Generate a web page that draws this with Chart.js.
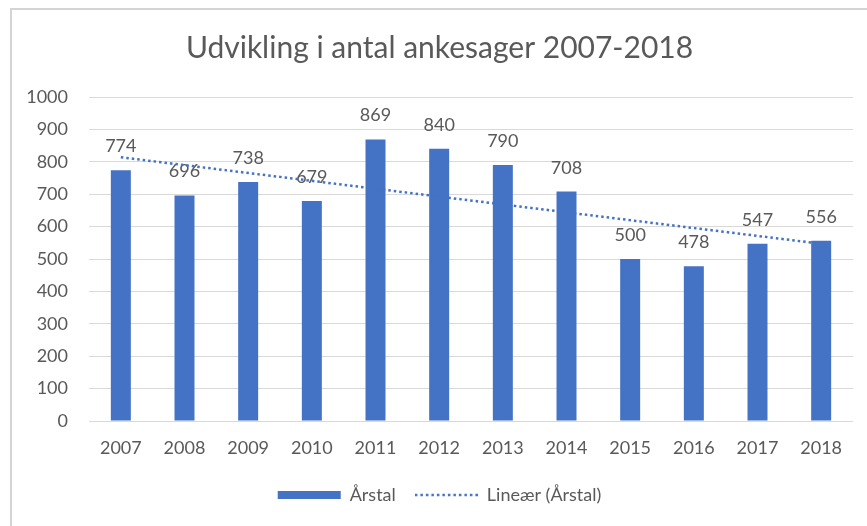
<!DOCTYPE html>
<html>
<head>
<meta charset="utf-8">
<script src="https://cdn.jsdelivr.net/npm/chart.js@4"></script>
<style>
  html, body { margin:0; padding:0; background:#fff; }
  .wrap { position:relative; width:867px; height:526px; overflow:hidden; }
  .frame { position:absolute; left:10px; top:8px; width:2000px; height:2000px;
           border-top:2px solid #d4d4d4; border-left:2px solid #d4d4d4; pointer-events:none; }
</style>
</head>
<body>
<div class="wrap">
  <canvas id="chart" width="867" height="526"></canvas>
  <div class="frame"></div>
</div>
<script>
// data
const years  = ['2007','2008','2009','2010','2011','2012','2013','2014','2015','2016','2017','2018'];
const cases  = [774, 696, 738, 679, 869, 840, 790, 708, 500, 478, 547, 556];
// trendline ends (2007 / 2018)
const trendYears = ['2007', '2018'];
const trendVals  = [814, 547];

const BLUE = '#4472C4';
const TXT  = '#595959';
const FONT = 'Lato, "Open Sans", sans-serif';
const DASH = [2.5, 3];

// value labels above the bars, drawn before the trendline so the dots sit on top
const barLabels = {
  id: 'barLabels',
  afterDatasetDraw(chart, args){
    if (args.index !== 0) return;
    const ctx = chart.ctx;
    ctx.save();
    ctx.font = '18px ' + FONT;
    ctx.fillStyle = TXT;
    ctx.textAlign = 'center';
    ctx.textBaseline = 'alphabetic';
    args.meta.data.forEach((bar, i) => {
      ctx.fillText(String(cases[i]), bar.x, bar.y - 18);
    });
    ctx.restore();
  }
};

// dotted legend swatch (the built-in 'line' style closes the path and fills the gaps)
function dottedSwatch(w, h){
  const c = document.createElement('canvas');
  c.width = w; c.height = h;
  const g = c.getContext('2d');
  g.strokeStyle = BLUE; g.lineWidth = 2.5; g.setLineDash(DASH);
  g.beginPath(); g.moveTo(0, h/2); g.lineTo(w, h/2); g.stroke();
  return c;
}

new Chart(document.getElementById('chart'), {
  type: 'bar',
  data: {
    labels: years,
    datasets: [
      { label:'Årstal', data:cases, backgroundColor:BLUE, borderWidth:0,
        barPercentage:0.314, categoryPercentage:1, order:2, pointStyle:'rect' },
      { type:'line', label:'Lineær (Årstal)',
        data: trendYears.map((y,i)=>({ x:y, y:trendVals[i] })),
        borderColor:BLUE, backgroundColor:BLUE, borderWidth:2.5, borderDash:DASH,
        pointRadius:0, fill:false, order:1, pointStyle:dottedSwatch(63, 8) }
    ]
  },
  options: {
    responsive:false,
    animation:false,
    layout:{ padding:{ left:26, right:14, top:0, bottom:12 } },
    plugins:{
      title:{ display:true, text:'Udvikling i antal ankesager 2007-2018',
        color:TXT, font:{ family:FONT, size:30, weight:'normal' },
        padding:{ top:30, bottom:31 } },
      legend:{ position:'bottom',
        labels:{ usePointStyle:true, pointStyleWidth:63, boxHeight:8, padding:19,
          color:TXT, font:{ family:FONT, size:18 },
          sort:(a,b)=>a.datasetIndex-b.datasetIndex } },
      tooltip:{ enabled:false }
    },
    scales:{
      x:{
        grid:{ display:false, drawTicks:false },
        border:{ display:false },
        ticks:{ color:TXT, font:{ family:FONT, size:18 }, padding:16, maxRotation:0 },
        afterFit(s){ s.height = 46; }
      },
      y:{
        min:0, max:1000,
        grid:{ color:'#d9d9d9', drawTicks:false },
        border:{ display:false },
        ticks:{ stepSize:100, color:TXT, font:{ family:FONT, size:18 }, padding:21,
          callback:v=>String(v) },
        afterFit(s){ s.width = 63; }
      }
    }
  },
  plugins:[barLabels]
});
</script>
</body>
</html>
